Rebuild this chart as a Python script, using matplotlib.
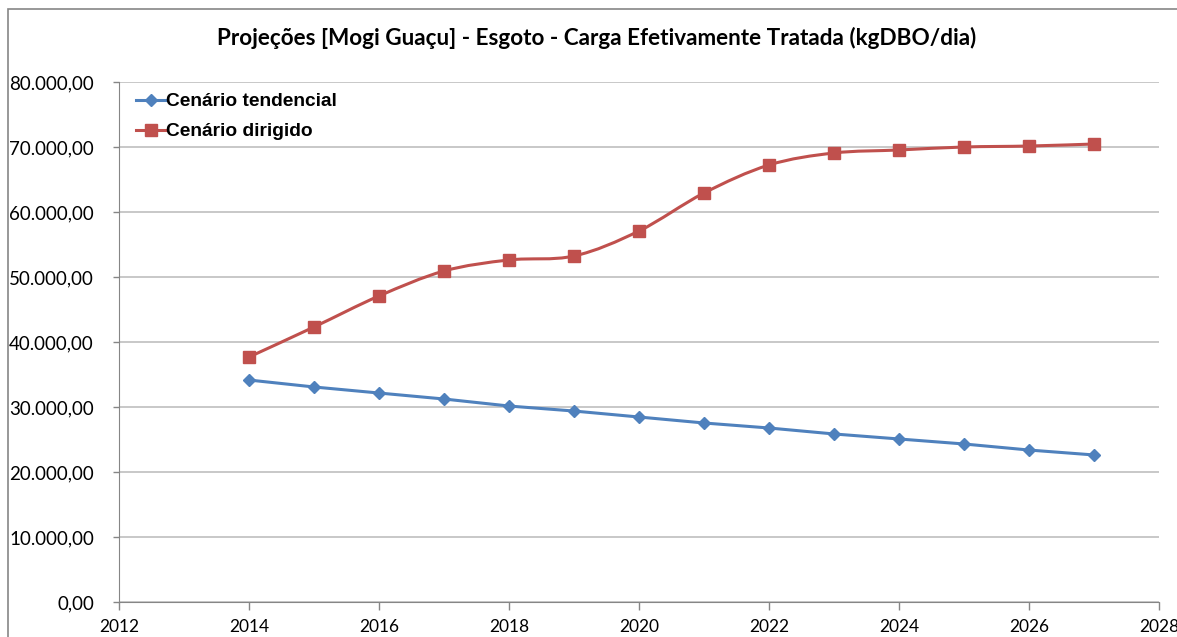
import matplotlib.pyplot as plt
from matplotlib.lines import Line2D
from matplotlib.path import Path
from matplotlib.patches import PathPatch, Rectangle
from matplotlib.ticker import FuncFormatter, MultipleLocator

anos = [2014, 2015, 2016, 2017, 2018, 2019, 2020, 2021, 2022, 2023, 2024, 2025, 2026, 2027]
tendencial = [34150, 33080, 32150, 31230, 30150, 29380, 28460, 27540, 26770, 25850,
              25080, 24310, 23380, 22620]
dirigido = [37690, 42310, 47080, 50920, 52620, 53230, 57080, 62920, 67230, 69080,
            69540, 70000, 70150, 70460]

AZUL = '#4F81BD'
VERMELHO = '#C0504D'
CINZA = '#868686'


def fmt_br(v, pos):
    s = '{:,.2f}'.format(v)
    return s.replace(',', 'X').replace('.', ',').replace('X', '.')


def curva_suave(xs, ys):
    # bezier no estilo do Excel (catmull-rom)
    verts = [(xs[0], ys[0])]
    codes = [Path.MOVETO]
    n = len(xs)
    for i in range(n - 1):
        x0, y0 = (xs[i - 1], ys[i - 1]) if i > 0 else (xs[i], ys[i])
        x1, y1 = xs[i], ys[i]
        x2, y2 = xs[i + 1], ys[i + 1]
        x3, y3 = (xs[i + 2], ys[i + 2]) if i + 2 < n else (x2, y2)
        c1 = (x1 + (x2 - x0) / 6, y1 + (y2 - y0) / 6)
        c2 = (x2 - (x3 - x1) / 6, y2 - (y3 - y1) / 6)
        verts += [c1, c2, (x2, y2)]
        codes += [Path.CURVE4] * 3
    return Path(verts, codes)


fig = plt.figure(figsize=(11.77, 6.37), dpi=100)
ax = fig.add_axes([119 / 1177, 1 - 602 / 637, 1040 / 1177, 520 / 637])

# moldura do grafico
fig.patches.append(Rectangle((8 / 1177, -0.1), 1.2, 1 - 9 / 637 + 0.1,
                             transform=fig.transFigure, fill=False,
                             edgecolor=CINZA, linewidth=1.2))

ax.plot(anos, tendencial, color=AZUL, linewidth=2.2, marker='D', markersize=6.5,
        zorder=3)
ax.add_patch(PathPatch(curva_suave(anos, dirigido), facecolor='none',
                       edgecolor=VERMELHO, linewidth=2.2, zorder=3))
ax.plot(anos, dirigido, linestyle='none', marker='s', markersize=8,
        color=VERMELHO, zorder=4)

ax.set_xlim(2012, 2028)
ax.set_ylim(0, 80000)
ax.xaxis.set_major_locator(MultipleLocator(2))
ax.yaxis.set_major_locator(MultipleLocator(10000))
ax.yaxis.set_major_formatter(FuncFormatter(fmt_br))
ax.grid(axis='y', color='#BFBFBF', linewidth=1.2)
ax.set_axisbelow(True)

for lado in ['top', 'right']:
    ax.spines[lado].set_visible(False)
for lado in ['left', 'bottom']:
    ax.spines[lado].set_color(CINZA)
ax.tick_params(axis='both', colors=CINZA, direction='out', width=1)
ax.tick_params(axis='y', length=4, labelsize=13.5, labelcolor='black', pad=14)
ax.tick_params(axis='x', length=6, labelsize=12.5, labelcolor='black', pad=6)
for t in ax.get_xticklabels() + ax.get_yticklabels():
    t.set_family('Lato')

fig.text(597 / 1177, 1 - 38 / 637,
         'Projeções [Mogi Guaçu] - Esgoto - Carga Efetivamente Tratada (kgDBO/dia)',
         ha='center', va='center', fontsize=16.2, fontweight='bold', family='Lato')

handles = [Line2D([], [], color=AZUL, linewidth=2.2, marker='D', markersize=6.5),
           Line2D([], [], color=VERMELHO, linewidth=2.2, marker='s', markersize=8)]
ax.legend(handles, ['Cenário tendencial', 'Cenário dirigido'], loc='upper left',
          bbox_to_anchor=(0.0, 1.012), frameon=False, handlelength=1.55,
          handletextpad=0.0, labelspacing=0.66,
          prop={'family': 'Liberation Sans', 'weight': 'bold', 'size': 13.8})

fig.savefig('out.png', dpi=100)
